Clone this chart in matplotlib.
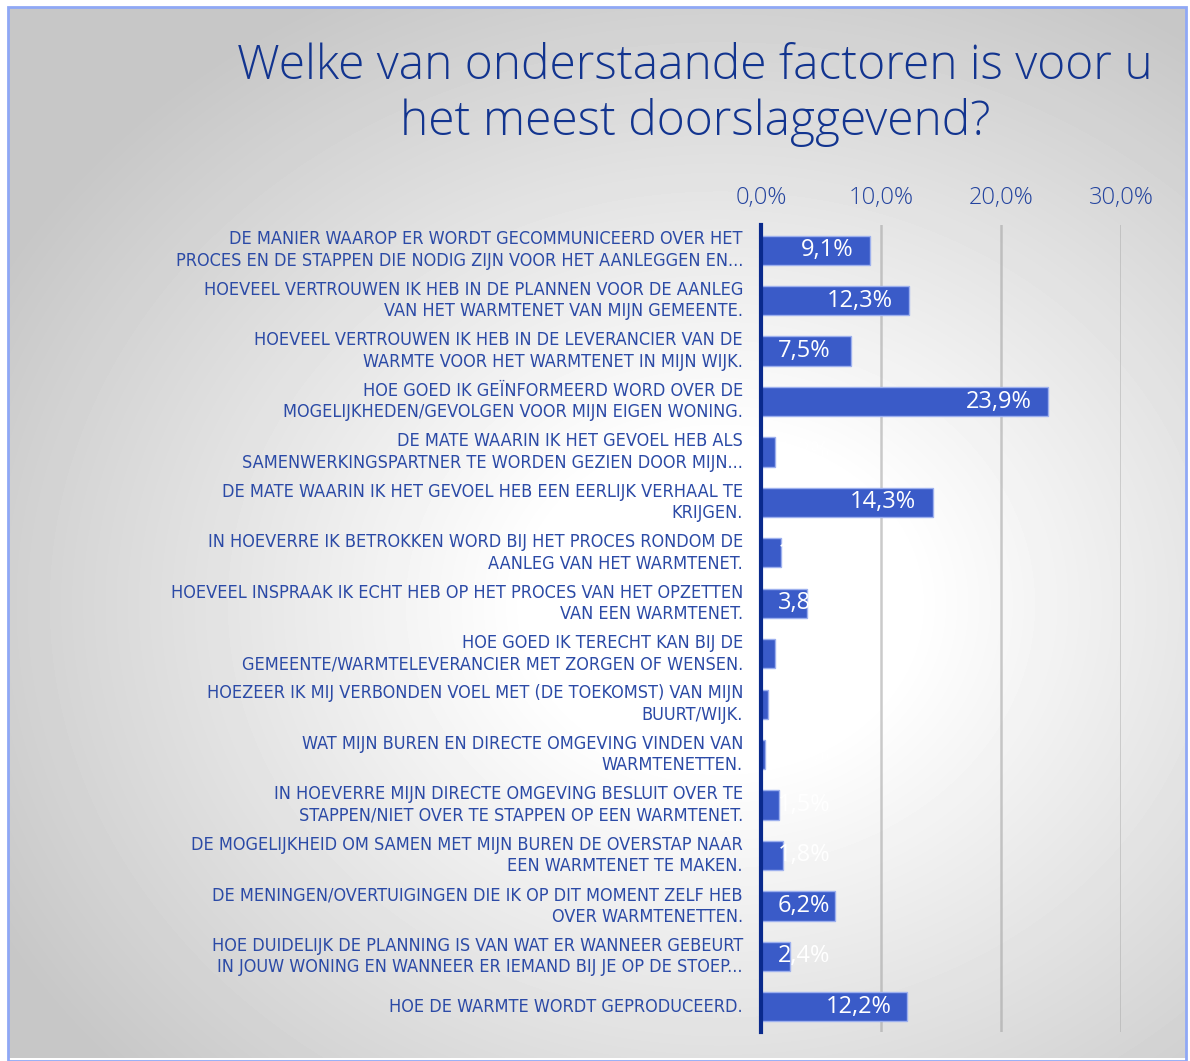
import numpy as np
import matplotlib
matplotlib.use("Agg")
import matplotlib.pyplot as plt
from matplotlib.patches import Rectangle

# data
categories = [
    "DE MANIER WAAROP ER WORDT GECOMMUNICEERD OVER HET\nPROCES EN DE STAPPEN DIE NODIG ZIJN VOOR HET AANLEGGEN EN...",
    "HOEVEEL VERTROUWEN IK HEB IN DE PLANNEN VOOR DE AANLEG\nVAN HET WARMTENET VAN MIJN GEMEENTE.",
    "HOEVEEL VERTROUWEN IK HEB IN DE LEVERANCIER VAN DE\nWARMTE VOOR HET WARMTENET IN MIJN WIJK.",
    "HOE GOED IK GEÏNFORMEERD WORD OVER DE\nMOGELIJKHEDEN/GEVOLGEN VOOR MIJN EIGEN WONING.",
    "DE MATE WAARIN IK HET GEVOEL HEB ALS\nSAMENWERKINGSPARTNER TE WORDEN GEZIEN DOOR MIJN...",
    "DE MATE WAARIN IK HET GEVOEL HEB EEN EERLIJK VERHAAL TE\nKRIJGEN.",
    "IN HOEVERRE IK BETROKKEN WORD BIJ HET PROCES RONDOM DE\nAANLEG VAN HET WARMTENET.",
    "HOEVEEL INSPRAAK IK ECHT HEB OP HET PROCES VAN HET OPZETTEN\nVAN EEN WARMTENET.",
    "HOE GOED IK TERECHT KAN BIJ DE\nGEMEENTE/WARMTELEVERANCIER MET ZORGEN OF WENSEN.",
    "HOEZEER IK MIJ VERBONDEN VOEL MET (DE TOEKOMST) VAN MIJN\nBUURT/WIJK.",
    "WAT MIJN BUREN EN DIRECTE OMGEVING VINDEN VAN\nWARMTENETTEN.",
    "IN HOEVERRE MIJN DIRECTE OMGEVING BESLUIT OVER TE\nSTAPPEN/NIET OVER TE STAPPEN OP EEN WARMTENET.",
    "DE MOGELIJKHEID OM SAMEN MET MIJN BUREN DE OVERSTAP NAAR\nEEN WARMTENET TE MAKEN.",
    "DE MENINGEN/OVERTUIGINGEN DIE IK OP DIT MOMENT ZELF HEB\nOVER WARMTENETTEN.",
    "HOE DUIDELIJK DE PLANNING IS VAN WAT ER WANNEER GEBEURT\nIN JOUW WONING EN WANNEER ER IEMAND BIJ JE OP DE STOEP...",
    "HOE DE WARMTE WORDT GEPRODUCEERD.",
]
values = [9.1, 12.3, 7.5, 23.9, 1.2, 14.3, 1.7, 3.8, 1.2, 0.6, 0.3, 1.5, 1.8, 6.2, 2.4, 12.2]
ticks = [0, 10, 20, 30]

W, H = 1190, 1061
fig = plt.figure(figsize=(W / 100, H / 100), dpi=100)
fig.patch.set_facecolor("white")

# radial gradient background inside the frame, white in the middle
bg = fig.add_axes([8 / W, 3 / H, (1186 - 8) / W, (1054 - 3) / H])
yy, xx = np.mgrid[0:1051, 0:1178]
d = np.hypot((xx - 712) / 712, (yy - 597) / 597)
img = 1 - 0.22 * np.clip((d - 0.27) / 0.88, 0, 1)
bg.imshow(img, cmap="gray", vmin=0, vmax=1, aspect="auto", interpolation="bilinear")
bg.set_axis_off()
fig.add_artist(Rectangle((8 / W, 0), (1186 - 8) / W, 1054 / H, transform=fig.transFigure,
                         fill=False, edgecolor="#8fa8f5", linewidth=2))

title_col = "#12348f"
label_col = "#2b4aa6"
bar_col = "#3a5bc8"

fig.text(695 / W, 1 - 95 / H, "Welke van onderstaande factoren is voor u\nhet meest doorslaggevend?",
         ha="center", va="center", fontsize=34.5, color=title_col, family="Open Sans", weight="light",
         linespacing=1.2)

ax = fig.add_axes([761 / W, 1 - 1032 / H, (1121 - 761) / W, (1032 - 225) / H])
ax.patch.set_alpha(0)
y = np.arange(len(values))
ax.barh(y, values, height=0.58, color=bar_col, edgecolor="#9db0ee", linewidth=1, zorder=3)
ax.set_xlim(0, 30)
ax.set_ylim(len(values) - 0.5, -0.5)
ax.set_xticks(ticks)
ax.set_xticklabels([f"{t:.1f}%".replace(".", ",") for t in ticks], fontsize=17,
                   color="#24449f", family="Open Sans", weight="light")
ax.xaxis.tick_top()
ax.tick_params(axis="x", length=0, pad=11)
ax.tick_params(axis="y", length=0, pad=13)
ax.set_yticks(y)
ax.set_yticklabels(categories, fontsize=13, color=label_col, family="DejaVu Sans",
                   stretch="condensed", linespacing=1.25, ha="right", va="center")
ax.grid(axis="x", color="#a0a0a0", alpha=0.55, linewidth=1.8, zorder=1)
for s in ["top", "right", "bottom"]:
    ax.spines[s].set_visible(False)
ax.spines["left"].set_color("#0a2a8c")
ax.spines["left"].set_linewidth(3)
ax.spines["left"].set_zorder(4)

for yi, v in zip(y, values):
    txt = f"{v:.1f}%".replace(".", ",")
    if v < 8:
        ax.text(1.4, yi, txt, ha="left", va="center", color="white", fontsize=17,
                family="Open Sans", zorder=5)
    else:
        ax.text(v - 1.35, yi, txt, ha="right", va="center", color="white", fontsize=17,
                family="Open Sans", zorder=5)

fig.savefig("out.png", dpi=100)
